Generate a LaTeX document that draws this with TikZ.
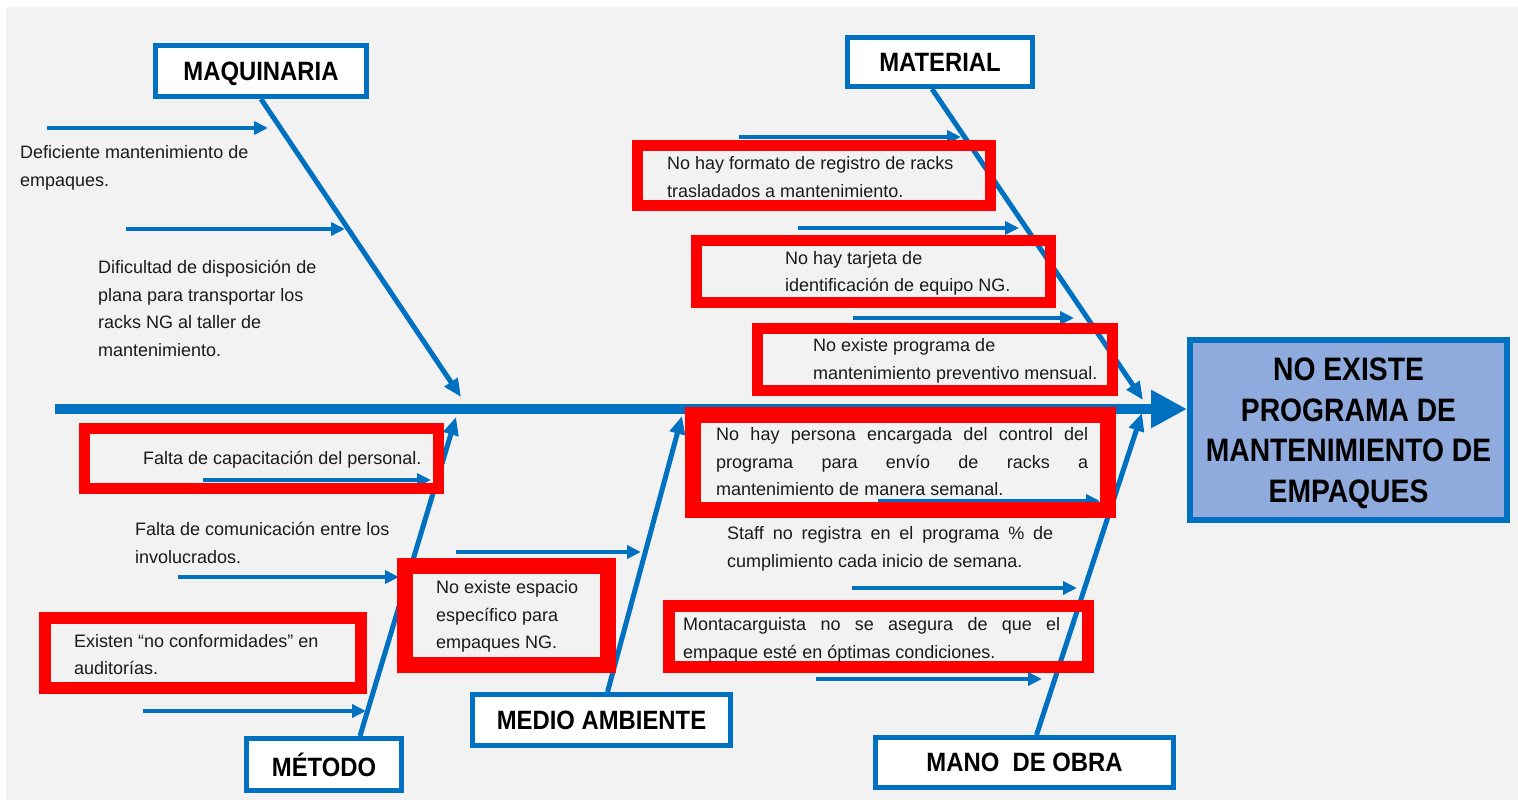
\documentclass[tikz,border=0pt]{standalone}
\usepackage{fontspec}
\setmainfont{Liberation Sans}
\newfontfamily\headfont[FakeStretch=0.9]{Liberation Sans}
\newfontfamily\efffont[FakeStretch=0.87]{Liberation Sans}
\usetikzlibrary{arrows.meta,positioning}
\definecolor{fishblue}{HTML}{0070C0}
\definecolor{causered}{HTML}{FF0000}
\definecolor{effblue}{HTML}{8FAADC}
\definecolor{bggray}{HTML}{F2F2F2}
\definecolor{txtgray}{HTML}{1A1A1A}

\begin{document}
\begin{tikzpicture}[x=1pt,y=-1pt,
  catbox/.style={draw=fishblue, line width=5pt, fill=white, inner sep=0pt, text=black, text depth=0pt,
    font=\headfont\bfseries\fontsize{26.5}{30}\selectfont},
  effbox/.style={draw=fishblue, line width=6pt, fill=effblue, inner sep=0pt, align=center, text=black,
    text depth=0pt, font=\efffont\bfseries\fontsize{32.5}{40.5}\selectfont},
  redbox/.style={draw=causered, inner sep=0pt},
  cause/.style={anchor=west, inner sep=0pt, align=left, text=txtgray, font=\fontsize{18}{27.5}\selectfont},
  bone/.style={draw=fishblue, line width=5pt, -{Triangle[length=18pt,width=15pt]}},
  twig/.style={draw=fishblue, line width=3.5pt, -{Triangle[length=14pt,width=13pt]}}]
\useasboundingbox (0,0) rectangle (1518,800);
\fill[bggray] (6,7) rectangle (1518,800);

% effect and categories
\node[effbox, minimum width=317pt, minimum height=180pt] (eff) at (1348.5,430)
  {NO EXISTE\\PROGRAMA DE\\MANTENIMIENTO DE\\EMPAQUES};
\node[catbox, minimum width=211pt, minimum height=51pt] (maq) at (261,71) {MAQUINARIA};
\node[catbox, minimum width=185pt, minimum height=49pt] (mat) at (940,62) {MATERIAL};
\node[catbox, minimum width=155pt, minimum height=52pt] (met) at (324,764.5) {MÉTODO};
\node[catbox, minimum width=258pt, minimum height=51pt] (med) at (601.5,720) {MEDIO AMBIENTE};
\node[catbox, minimum width=298pt, minimum height=50pt] (mano) at (1024.5,762.5) {MANO\ \ DE OBRA};

% spine
\coordinate (tail) at (55,409);
\draw[draw=fishblue, line width=10pt, -{Triangle[length=36pt,width=36pt]}] (tail) -- (tail -| eff.west);

% bones
\coordinate (maqtip) at (461,397);
\coordinate (mattip) at (1143,400);
\coordinate (mettip) at (456,417);
\coordinate (medtip) at (682,416);
\coordinate (manotip) at (1142,413);
\draw[bone] (maq.south) -- (maqtip);
\draw[bone] ([xshift=-8pt]mat.south) -- (mattip);
\draw[bone] ([xshift=36pt]met.north) -- (mettip);
\draw[bone] ([xshift=6pt]med.north) -- (medtip);
\draw[bone] ([xshift=12pt]mano.north) -- (manotip);

% small arrows
\foreach \i/\xa/\xb/\y in {1/47/268/128, 2/126/345/229, 3/739/961/137, 4/798/1019/228,
    5/853/1074/318, 6/203/431/480, 7/178/399/577, 8/143/366/711, 9/456/641/552,
    10/878/1100/501, 11/852/1077/588, 12/816/1042/679} {
  \coordinate (tw\i a) at (\xa,\y);
  \coordinate (tw\i b) at (\xb,\y);
  \draw[twig] (tw\i a) -- (tw\i b);
}

% red boxes
\node[redbox, line width=11pt, minimum width=353pt, minimum height=60pt] (formato) at (814,175.5) {};
\node[redbox, line width=11pt, minimum width=354pt, minimum height=62pt] (tarjeta) at (873.5,271.5) {};
\node[redbox, line width=11pt, minimum width=355pt, minimum height=62pt] (mensual) at (935,359.5) {};
\node[redbox, line width=16pt, minimum width=415pt, minimum height=95pt] (persona) at (900.5,462.5) {};
\node[redbox, line width=12pt, minimum width=419pt, minimum height=61pt] (monta) at (878.5,636.5) {};
\node[redbox, line width=11pt, minimum width=354pt, minimum height=60pt] (capac) at (261.5,458.5) {};
\node[redbox, line width=12pt, minimum width=316pt, minimum height=70pt] (audit) at (203,653) {};
\node[redbox, line width=16pt, minimum width=203pt, minimum height=99pt] (espacio) at (506.5,615.5) {};

% Text Node
\node[cause] (deficiente) at (20,168) {Deficiente mantenimiento de\\empaques.};
\node[cause] (dificultad) at (98,308.5) {Dificultad de disposición de\\plana para transportar los\\racks NG al taller de\\mantenimiento.};
\node[cause] (formatotxt) at (667,177) {No hay formato de registro de racks\\trasladados a mantenimiento.};
\node[cause] (tarjetatxt) at (785,273.5) {No hay tarjeta de\\identificación de equipo NG.};
\node[cause] (mensualtxt) at (813,361) {No existe programa de\\mantenimiento preventivo mensual.};
\node[cause] (personatxt) at (716,462) {\makebox[372pt][s]{No hay persona encargada del control del}\\
  \makebox[372pt][s]{programa para envío de racks a}\\mantenimiento de manera semanal.};
\node[cause] (staff) at (727,549) {\makebox[326pt][s]{Staff no registra en el programa \% de}\\cumplimiento cada inicio de semana.};
\node[cause] (montatxt) at (683,640) {\makebox[377pt][s]{Montacarguista no se asegura de que el}\\empaque esté en óptimas condiciones.};
\node[cause] (capactxt) at (143,460) {Falta de capacitación del personal.};
\node[cause] (comunic) at (135,543) {Falta de comunicación entre los\\involucrados.};
\node[cause] (audittxt) at (74,654.5) {Existen “no conformidades” en\\auditorías.};
\node[cause] (espaciotxt) at (436,616.5) {No existe espacio\\específico para\\empaques NG.};

\end{tikzpicture}
\end{document}
